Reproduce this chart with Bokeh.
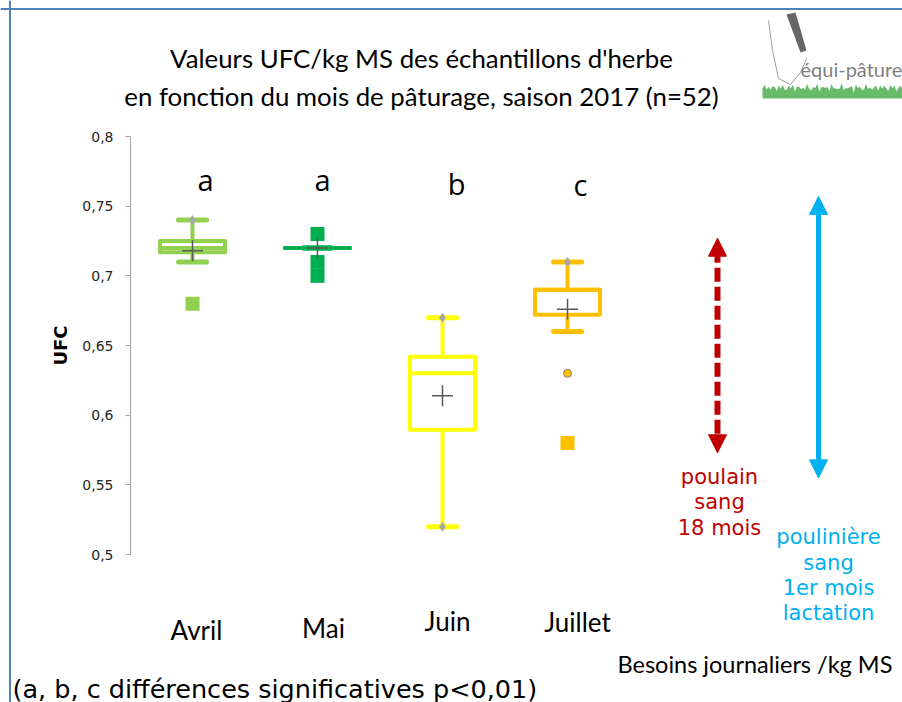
import numpy as np
from bokeh.plotting import figure
from bokeh.models import Range1d, LinearAxis, FixedTicker, Span, Arrow, NormalHead
from bokeh.core.properties import value
from bokeh.embed import file_html
from bokeh.resources import INLINE

# ---------------- data ----------------
months = ["Avril", "Mai", "Juin", "Juillet"]
colors = ["#92D050", "#00B050", "#FFFF00", "#FFC000"]
q1 = [0.717, 0.72, 0.5895, 0.672]
median = [0.72, 0.72, 0.63, 0.69]
q3 = [0.725, 0.72, 0.642, 0.69]
whisk_lo = [0.71, 0.72, 0.52, 0.66]
whisk_hi = [0.74, 0.72, 0.67, 0.71]
means = [0.718, 0.72, 0.614, 0.676]
# outliers (square markers)
out_month = [1, 2, 2, 2, 4]
out_val = [0.68, 0.73, 0.71, 0.70, 0.58]
# small circle point (Juillet)
pt_month = [4]
pt_val = [0.63]
# grey diamond points at extremes
ext_month = [1, 3, 3, 4]
ext_val = [0.74, 0.67, 0.52, 0.71]
sig_letters = ["a", "a", "b", "c"]
yticks = [0.5, 0.55, 0.6, 0.65, 0.7, 0.75, 0.8]
ytick_labels = ["0,5", "0,55", "0,6", "0,65", "0,7", "0,75", "0,8"]
# daily requirements (UFC/kg MS)
besoins_lo = [0.573, 0.555]
besoins_hi = [0.727, 0.757]
besoins_colors = ["#C00000", "#00B0F0"]
besoins_lines = [["poulain", "sang", "18 mois"],
                 ["poulinière", "sang", "1er mois", "lactation"]]

# ---------------- layout helpers (page pixel -> data) ----------------
X0, XS = 67.0, 125.0
YS = 418.0 / 0.3
def X(px):
    return (px - X0) / XS
def Y(py):
    return 0.5 + (554.0 - py) / YS

W, H = 902, 702
p = figure(width=W, height=H, output_backend="svg", toolbar_location=None,
           x_range=Range1d(X(0), X(W)), y_range=Range1d(Y(H), Y(0)),
           x_axis_location=None, y_axis_location=None, min_border=0)
p.outline_line_color = None
p.background_fill_color = "white"
p.border_fill_color = "white"
p.xgrid.visible = False
p.ygrid.visible = False

# frame border (left and top)
p.add_layout(Span(location=X(9.5), dimension="height", line_color="#4F81BD", line_width=2))
p.add_layout(Span(location=Y(8.5), dimension="width", line_color="#4F81BD", line_width=2))

# y axis
yax = LinearAxis(fixed_location=X(130), bounds=(0.5, 0.8),
                 ticker=FixedTicker(ticks=yticks),
                 major_label_overrides={t: l for t, l in zip(yticks, ytick_labels)})
yax.axis_line_color = "#A6A6A6"
yax.major_tick_line_color = "#A6A6A6"
yax.major_tick_out = 5
yax.major_tick_in = 0
yax.minor_tick_line_color = None
yax.major_label_text_font = "DejaVu Sans"
yax.major_label_text_font_size = "14px"
yax.major_label_text_color = "#262626"
yax.major_label_standoff = 12
yax.axis_label = "UFC"
yax.axis_label_text_font = "DejaVu Sans"
yax.axis_label_text_font_style = "bold"
yax.axis_label_text_font_size = "18px"
yax.axis_label_text_color = "black"
yax.axis_label_standoff = 8
p.add_layout(yax, "left")

xs = np.arange(1, len(months) + 1)
bw = 0.26   # half box width
cw = 0.112  # half cap width

# whiskers
p.segment(x0=xs, y0=q3, x1=xs, y1=whisk_hi, line_color=colors, line_width=4)
p.segment(x0=xs, y0=q1, x1=xs, y1=whisk_lo, line_color=colors, line_width=4)
# caps
p.segment(x0=xs - cw, y0=whisk_hi, x1=xs + cw, y1=whisk_hi, line_color=colors,
          line_width=5, line_cap="round")
p.segment(x0=xs - cw, y0=whisk_lo, x1=xs + cw, y1=whisk_lo, line_color=colors,
          line_width=5, line_cap="round")
# boxes
p.quad(left=xs - bw, right=xs + bw, bottom=q1, top=q3, fill_color="white",
       line_color=colors, line_width=4, line_join="round")
# medians
p.segment(x0=xs - bw, y0=median, x1=xs + bw, y1=median, line_color=colors,
          line_width=4, line_cap="round")

# outliers
out_colors = [colors[m - 1] for m in out_month]
p.scatter(x=out_month, y=out_val, marker="square", size=14, fill_color=out_colors,
          line_color=None)
p.scatter(x=pt_month, y=pt_val, marker="circle", size=8,
          fill_color=[colors[m - 1] for m in pt_month], line_color="#7F7F7F")
p.scatter(x=ext_month, y=ext_val, marker="diamond", size=10, fill_color="#A6A6A6",
          line_color=None)
# means
p.scatter(x=xs, y=means, marker="cross", size=21, line_color="#595959", line_width=1.5)

# significance letters
p.text(x=[X(205), X(322), X(456), X(580)], y=[Y(179), Y(179), Y(183), Y(184)],
       text=sig_letters, text_font=value("Open Sans"), text_font_size="29px",
       text_align="center", text_baseline="middle", text_color="black")

# month labels
p.text(x=[X(196), X(323), X(447), X(577)], y=[Y(629), Y(627), Y(620), Y(621)],
       text=months, text_font=value("Lato"), text_font_size="26px",
       text_align="center", text_baseline="middle", text_color="black")

# title
p.text(x=[X(421), X(421)], y=[Y(57), Y(95)],
       text=["Valeurs UFC/kg MS des échantillons d'herbe",
             "en fonction du mois de pâturage, saison 2017 (n=52)"],
       text_font=value("Lato"), text_font_size="25.8px",
       text_align="center", text_baseline="middle", text_color="black")

# requirement arrows
arrow_x = [X(717), X(818)]
dashes = ["14 5", "solid"]
widths = [6, 5]
for ax, lo, hi, c, d, w in zip(arrow_x, besoins_lo, besoins_hi, besoins_colors, dashes, widths):
    p.add_layout(Arrow(x_start=ax, y_start=lo, x_end=ax, y_end=hi,
                       line_color=c, line_width=w, line_dash=d,
                       start=NormalHead(size=18, fill_color=c, line_color=c),
                       end=NormalHead(size=18, fill_color=c, line_color=c)))

# requirement labels
red_y = [476, 501, 527]
blue_y = [536, 562, 587, 612]
p.text(x=[X(719)] * 3, y=[Y(v) for v in red_y], text=besoins_lines[0],
       text_font=value("DejaVu Sans"), text_font_size="21px", text_align="center",
       text_baseline="middle", text_color=besoins_colors[0])
p.text(x=[X(828)] * 4, y=[Y(v) for v in blue_y], text=besoins_lines[1],
       text_font=value("DejaVu Sans"), text_font_size="21px", text_align="center",
       text_baseline="middle", text_color=besoins_colors[1])

p.text(x=[X(617)], y=[Y(663)], text=["Besoins journaliers /kg MS"],
       text_font=value("Lato"), text_font_size="23.5px", text_align="left",
       text_baseline="middle", text_color="black")
p.text(x=[X(12)], y=[Y(688)], text=["(a, b, c différences significatives p<0,01)"],
       text_font=value("DejaVu Sans"), text_font_size="25.5px", text_align="left",
       text_baseline="middle", text_color="black")

# logo (approximation)
gx = np.linspace(762, 902, 70)
gtop = 86 + 6 * np.abs(np.sin(gx * 0.9)) - 4 * np.abs(np.cos(gx * 0.37))
p.patch(x=[X(v) for v in np.concatenate([gx, [902, 762]])],
        y=[Y(v) for v in np.concatenate([gtop, [98, 98]])],
        fill_color="#4CAF50", fill_alpha=0.85, line_color=None)
p.patch(x=[X(v) for v in [786, 795, 806, 800]], y=[Y(v) for v in [14, 12, 50, 52]],
        fill_color="#666666", line_color=None)
p.line(x=[X(v) for v in [768, 772, 778, 790, 800, 806]],
       y=[Y(v) for v in [20, 50, 78, 84, 72, 58]], line_color="#9E9E9E", line_width=1)
p.text(x=[X(800)], y=[Y(68)], text=["équi-pâture"], text_font=value("Lato"),
       text_font_size="20px", text_align="left", text_baseline="middle",
       text_color="#7F7F7F")

open("out.html", "w").write(file_html(p, INLINE))
